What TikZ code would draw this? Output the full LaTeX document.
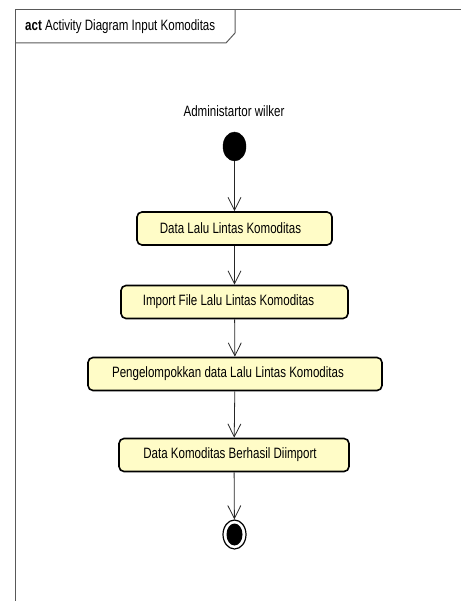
\documentclass[tikz,border=0pt]{standalone}
\usepackage{fontspec}
\setmainfont{Liberation Sans}[FakeStretch=0.77]
\usetikzlibrary{arrows.meta,shapes.geometric}
\begin{document}
\begin{tikzpicture}[x=1pt,y=-1pt,
  txt/.style={font=\fontsize{15}{17}\selectfont},
  act/.style={txt,draw=black,line width=1.6pt,rounded corners=5pt,fill=yellow!22,minimum height=33pt,inner sep=0pt},
  flow/.style={draw=black!85,line width=0.8pt,-{Straight Barb[length=13pt,width=13pt,line width=0.8pt]}},
  frameline/.style={draw=black!65,line width=1pt}]
\useasboundingbox (0,0) rectangle (460,601);
% frame
\draw[frameline] (15,640) -- (15,10) -- (480,10);
\draw[frameline] (15,43) -- (226,43) -- (235,33) -- (235,10);
\node[txt,anchor=west,inner sep=0pt] (title) at (25,27) {\textbf{act} Activity Diagram Input Komoditas};
% actor label
\node[txt,inner sep=0pt] (actor) at (234,111) {Administartor wilker};
% initial node
\node[draw=black,fill=black,ellipse,minimum width=23pt,minimum height=29pt,inner sep=0pt] (start) at (234.5,146.5) {};
% actions
\node[act,minimum width=195pt] (a1) at (234.5,228.5) {Data Lalu Lintas Komoditas\hspace*{8pt}};
\node[act,minimum width=227pt] (a2) at (234.5,302) {Import File Lalu Lintas Komoditas\hspace*{12pt}};
\node[act,minimum width=294pt] (a3) at (235,374) {Pengelompokkan data Lalu Lintas Komoditas\hspace*{14pt}};
\node[act,minimum width=230pt] (a4) at (234,455) {Data Komoditas Berhasil Diimport\hspace*{8pt}};
% final node
\node[draw=black,line width=1.2pt,fill=white,ellipse,minimum width=23pt,minimum height=29pt,inner sep=0pt] (end) at (234.5,534.5) {};
\node[fill=black,ellipse,minimum width=16pt,minimum height=22pt,inner sep=0pt] (endin) at (234.5,534.5) {};
% flows
\draw[flow] (start) -- (a1);
\draw[flow] (a1) -- (a2);
\draw[flow] (a2) -- (a3);
\draw[flow] (a3) -- (a4);
\draw[flow] (a4) -- (end);
\end{tikzpicture}
\end{document}
